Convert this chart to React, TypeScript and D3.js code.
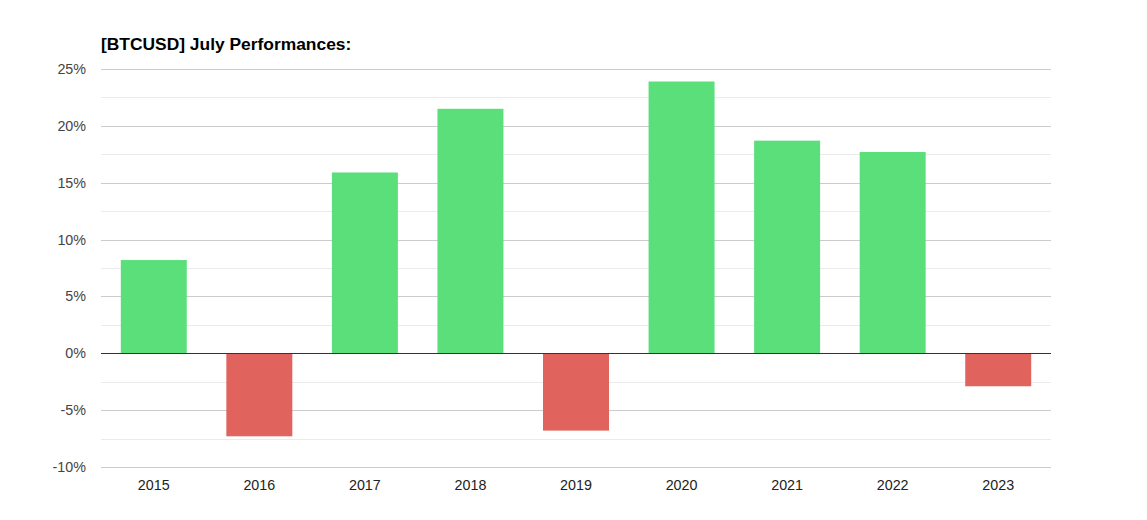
import React from "react";
import * as d3 from "d3";

const years = ["2015", "2016", "2017", "2018", "2019", "2020", "2021", "2022", "2023"];
const values = [8.2, -7.3, 15.9, 21.5, -6.8, 23.9, 18.7, 17.7, -2.9];
const majorTicks = [-10, -5, 0, 5, 10, 15, 20, 25];
const minorTicks = [-7.5, -2.5, 2.5, 7.5, 12.5, 17.5, 22.5];
const title = "[BTCUSD] July Performances:";

const W = 1147, H = 520;
const left = 101, right = 1051, top = 69, bottom = 467;

export default function App() {
  const x = d3.scaleBand().domain(years).range([left, right]).paddingInner(0.375).paddingOuter(0.1875);
  const y = d3.scaleLinear().domain([-10, 25]).range([bottom, top]);
  const font = "'Liberation Sans', Arial, sans-serif";
  return (
    <div style={{ position: "fixed", left: 0, top: 0 }}>
      <svg width={W} height={H} style={{ display: "block", background: "#fff" }}>
        <text x={101} y={49.5} fontFamily={font} fontSize={17.4} fontWeight="bold" fill="#000">{title}</text>
        {minorTicks.map((t) => (
          <line key={"m" + t} x1={left} x2={right} y1={Math.round(y(t)) + 0.5} y2={Math.round(y(t)) + 0.5} stroke="#ebebeb" strokeWidth={1} />
        ))}
        {majorTicks.filter((t) => t !== 0).map((t) => (
          <line key={"g" + t} x1={left} x2={right} y1={Math.round(y(t)) + 0.5} y2={Math.round(y(t)) + 0.5} stroke="#cccccc" strokeWidth={1} />
        ))}
        {majorTicks.map((t) => (
          <text key={"l" + t} x={86} y={y(t) + 5} textAnchor="end" fontFamily={font} fontSize={14.3} fill="#444">{t + "%"}</text>
        ))}
        {values.map((v, i) => (
          <rect
            key={years[i]}
            x={x(years[i])!}
            width={x.bandwidth()}
            y={v >= 0 ? y(v) : y(0)}
            height={Math.abs(y(v) - y(0))}
            fill={v >= 0 ? "#5bdf7b" : "#e0635d"}
          />
        ))}
        <line x1={left} x2={right} y1={Math.round(y(0)) + 0.5} y2={Math.round(y(0)) + 0.5} stroke="#333" strokeWidth={1} />
        {years.map((yr) => (
          <text key={"x" + yr} x={x(yr)! + x.bandwidth() / 2} y={490} textAnchor="middle" fontFamily={font} fontSize={14.3} fill="#222">{yr}</text>
        ))}
      </svg>
    </div>
  );
}
